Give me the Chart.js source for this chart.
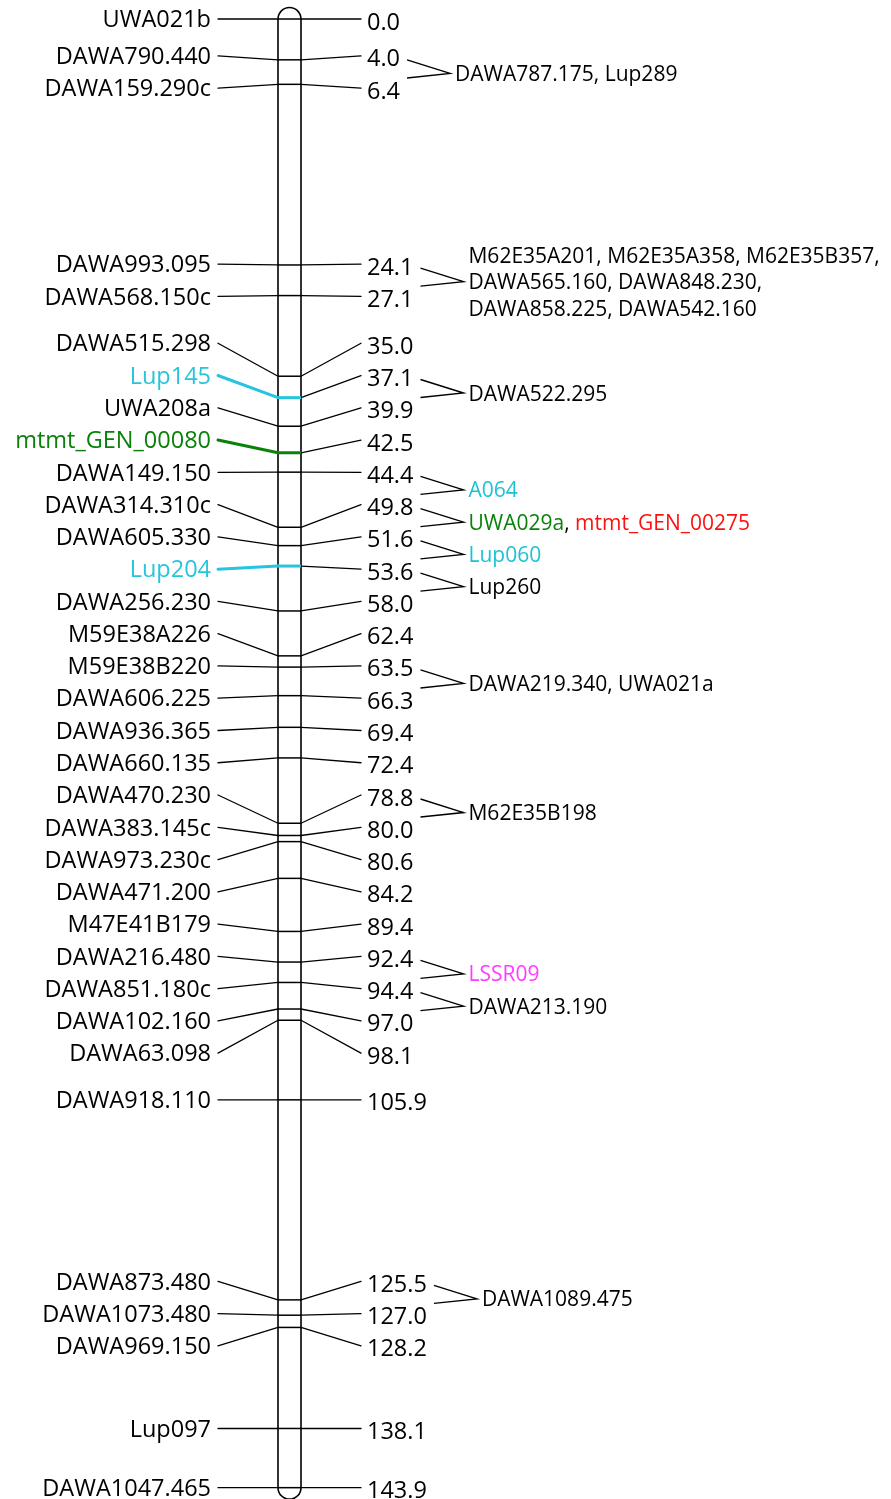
<!DOCTYPE html>
<html>
<head>
<meta charset="utf-8">
<script src="https://cdn.jsdelivr.net/npm/chart.js@4.4.1/dist/chart.umd.min.js"></script>
<style>
html,body{margin:0;padding:0;background:#fff;}
#wrap{width:891px;height:1499px;position:relative;}
</style>
</head>
<body>
<div id="wrap"><canvas id="c" width="891" height="1499"></canvas></div>
<script>
// ---------------- DATA ----------------
const markerNames = ["UWA021b","DAWA790.440","DAWA159.290c","DAWA993.095","DAWA568.150c","DAWA515.298","Lup145","UWA208a","mtmt_GEN_00080","DAWA149.150","DAWA314.310c","DAWA605.330","Lup204","DAWA256.230","M59E38A226","M59E38B220","DAWA606.225","DAWA936.365","DAWA660.135","DAWA470.230","DAWA383.145c","DAWA973.230c","DAWA471.200","M47E41B179","DAWA216.480","DAWA851.180c","DAWA102.160","DAWA63.098","DAWA918.110","DAWA873.480","DAWA1073.480","DAWA969.150","Lup097","DAWA1047.465"];
const positions = [0.0,4.0,6.4,24.1,27.1,35.0,37.1,39.9,42.5,44.4,49.8,51.6,53.6,58.0,62.4,63.5,66.3,69.4,72.4,78.8,80.0,80.6,84.2,89.4,92.4,94.4,97.0,98.1,105.9,125.5,127.0,128.2,138.1,143.9];
const positionLabels = positions.map(p => p.toFixed(1));
// highlighted markers on the map (name -> class)
const highlightNames = ["Lup145","mtmt_GEN_00080","Lup204"];
const highlightClass = ["cyan","green","cyan"];
// co-located marker annotations (attached at a map position)
const annoAt = [4.0, 24.1, 37.1, 44.4, 49.8, 51.6, 53.6, 63.5, 78.8, 92.4, 94.4, 125.5];
const annoText = [
  [[["DAWA787.175, Lup289","k"]]],
  [[["M62E35A201, M62E35A358, M62E35B357,","k"]],[["DAWA565.160, DAWA848.230,","k"]],[["DAWA858.225, DAWA542.160","k"]]],
  [[["DAWA522.295","k"]]],
  [[["A064","cyan2"]]],
  [[["UWA029a","green"],[", ","k"],["mtmt_GEN_00275","red"]]],
  [[["Lup060","cyan2"]]],
  [[["Lup260","k"]]],
  [[["DAWA219.340, UWA021a","k"]]],
  [[["M62E35B198","k"]]],
  [[["LSSR09","magenta"]]],
  [[["DAWA213.190","k"]]],
  [[["DAWA1089.475","k"]]]
];

// ---------------- STYLE ----------------
const COLORS = {k:"#000000", cyan:"#27C4DE", cyan2:"#1CC3D2", green:"#0A820A", red:"#FF1010", magenta:"#FF3CFF"};
const FONT = "'Open Sans', 'Noto Sans', sans-serif";
const CHR_X = 289.5, CHR_R = 11.5;
const LABEL_GAP = 32.27;
const LEFT_TEXT_X = 211, LEFT_LINE_X = 218;
const RIGHT_LINE_X = 361, RIGHT_TEXT_X = 367;

function classOf(name){ const i = highlightNames.indexOf(name); return i < 0 ? "k" : highlightClass[i]; }

// minimax label spreading (keeps labels >= gap apart, minimal max displacement)
function spread(p, g){
  let cl = p.map((v,i)=>({s:i,e:i,c:v}));
  let changed = true;
  while(changed){
    changed = false;
    for(let k=0;k<cl.length-1;k++){
      const A=cl[k], B=cl[k+1];
      const aLast = A.c + (A.e-A.s)/2*g;
      const bFirst = B.c - (B.e-B.s)/2*g;
      if(bFirst - aLast < g - 1e-6){
        const s=A.s, e=B.e, n=e-s+1;
        let mx=-Infinity, mn=Infinity;
        for(let i=s;i<=e;i++){ const q=p[i]-(i-s-(n-1)/2)*g; mx=Math.max(mx,q); mn=Math.min(mn,q); }
        cl.splice(k,2,{s,e,c:(mx+mn)/2});
        changed = true; break;
      }
    }
  }
  const out=[];
  cl.forEach(C=>{ const n=C.e-C.s+1; for(let i=C.s;i<=C.e;i++) out[i]=C.c+(i-C.s-(n-1)/2)*g; });
  return out;
}

const mapPlugin = {
  id:'linkageMap',
  beforeDatasetsDraw(chart){
    const ctx = chart.ctx, y = chart.scales.y, x = chart.scales.x;
    const cx = x.getPixelForValue(CHR_X);
    const top = y.getPixelForValue(Math.min(...positions));
    const bot = y.getPixelForValue(Math.max(...positions));
    // chromosome body
    ctx.save();
    ctx.beginPath();
    ctx.moveTo(cx-CHR_R, top);
    ctx.arc(cx, top, CHR_R, Math.PI, 2*Math.PI);
    ctx.lineTo(cx+CHR_R, bot);
    ctx.arc(cx, bot, CHR_R, 0, Math.PI);
    ctx.closePath();
    ctx.fillStyle = "#fff"; ctx.fill();
    ctx.lineWidth = 1.6; ctx.strokeStyle = "#000"; ctx.stroke();

    const p = positions.map(v=>y.getPixelForValue(v));
    const L = spread(p, LABEL_GAP);
    chart.$labelY = L;
    // connectors
    ctx.lineCap = "round";
    positions.forEach((v,i)=>{
      const cls = classOf(markerNames[i]);
      ctx.beginPath();
      ctx.moveTo(LEFT_LINE_X, L[i]);
      ctx.lineTo(cx-CHR_R, p[i]);
      ctx.strokeStyle = COLORS[cls];
      ctx.lineWidth = cls==="k" ? 1.3 : 3;
      ctx.stroke();
      ctx.beginPath();
      ctx.moveTo(cx+CHR_R, p[i]);
      ctx.lineTo(RIGHT_LINE_X, L[i]);
      ctx.strokeStyle = "#000"; ctx.lineWidth = 1.3;
      ctx.stroke();
    });
    ctx.restore();
  },
  afterDatasetsDraw(chart){
    const ctx = chart.ctx, L = chart.$labelY;
    ctx.save();
    ctx.textBaseline = "alphabetic";
    // left labels
    ctx.font = "23.5px " + FONT;
    ctx.textAlign = "right";
    markerNames.forEach((n,i)=>{
      ctx.fillStyle = COLORS[classOf(n)];
      ctx.fillText(n, LEFT_TEXT_X, L[i] + 8.2);
    });
    // right labels
    ctx.textAlign = "left";
    ctx.fillStyle = "#000";
    const rw = [];
    positionLabels.forEach((t,i)=>{
      ctx.font = "23.5px " + FONT;
      ctx.fillText(t, RIGHT_TEXT_X, L[i] + 10.5);
      rw[i] = ctx.measureText(t).width;
    });
    // annotations
    annoAt.forEach((pos,a)=>{
      const i = positions.indexOf(pos);
      const Ly = L[i];
      const x0 = RIGHT_TEXT_X + rw[i] + 7, x1 = x0 + 43;
      const conv = Ly + 17.5;
      ctx.beginPath();
      ctx.moveTo(x0, Ly + 4); ctx.lineTo(x1, conv); ctx.lineTo(x0, Ly + 22);
      ctx.strokeStyle = "#000"; ctx.lineWidth = 1.4; ctx.lineJoin = "miter";
      ctx.stroke();
      const lines = annoText[a];
      const n = lines.length;
      ctx.font = "21px " + FONT;
      lines.forEach((segs,k)=>{
        const cy = conv + (k-(n-1)/2)*26.5;
        let tx = x1 + 5;
        segs.forEach(([s,c])=>{
          ctx.fillStyle = COLORS[c];
          ctx.fillText(s, tx, cy + 7.5);
          tx += ctx.measureText(s).width;
        });
      });
    });
    ctx.restore();
  }
};

new Chart(document.getElementById('c'), {
  type:'scatter',
  data:{
    datasets:[{
      data: positions.map(v=>({x:CHR_X, y:v})),
      pointStyle:'line',
      pointRadius: CHR_R,
      pointHoverRadius: CHR_R,
      pointBorderColor: markerNames.map(n=>COLORS[classOf(n)]),
      pointBorderWidth: markerNames.map(n=>classOf(n)==="k"?1.5:3),
      showLine:false
    }]
  },
  options:{
    responsive:false,
    animation:false,
    devicePixelRatio:1,
    events:[],
    layout:{padding:0, autoPadding:false},
    scales:{
      x:{type:'linear', min:0, max:891, display:false},
      y:{type:'linear', min:-1.862, max:145.01, reverse:true, display:false}
    },
    plugins:{legend:{display:false}, tooltip:{enabled:false}}
  },
  plugins:[mapPlugin]
});
</script>
</body>
</html>
